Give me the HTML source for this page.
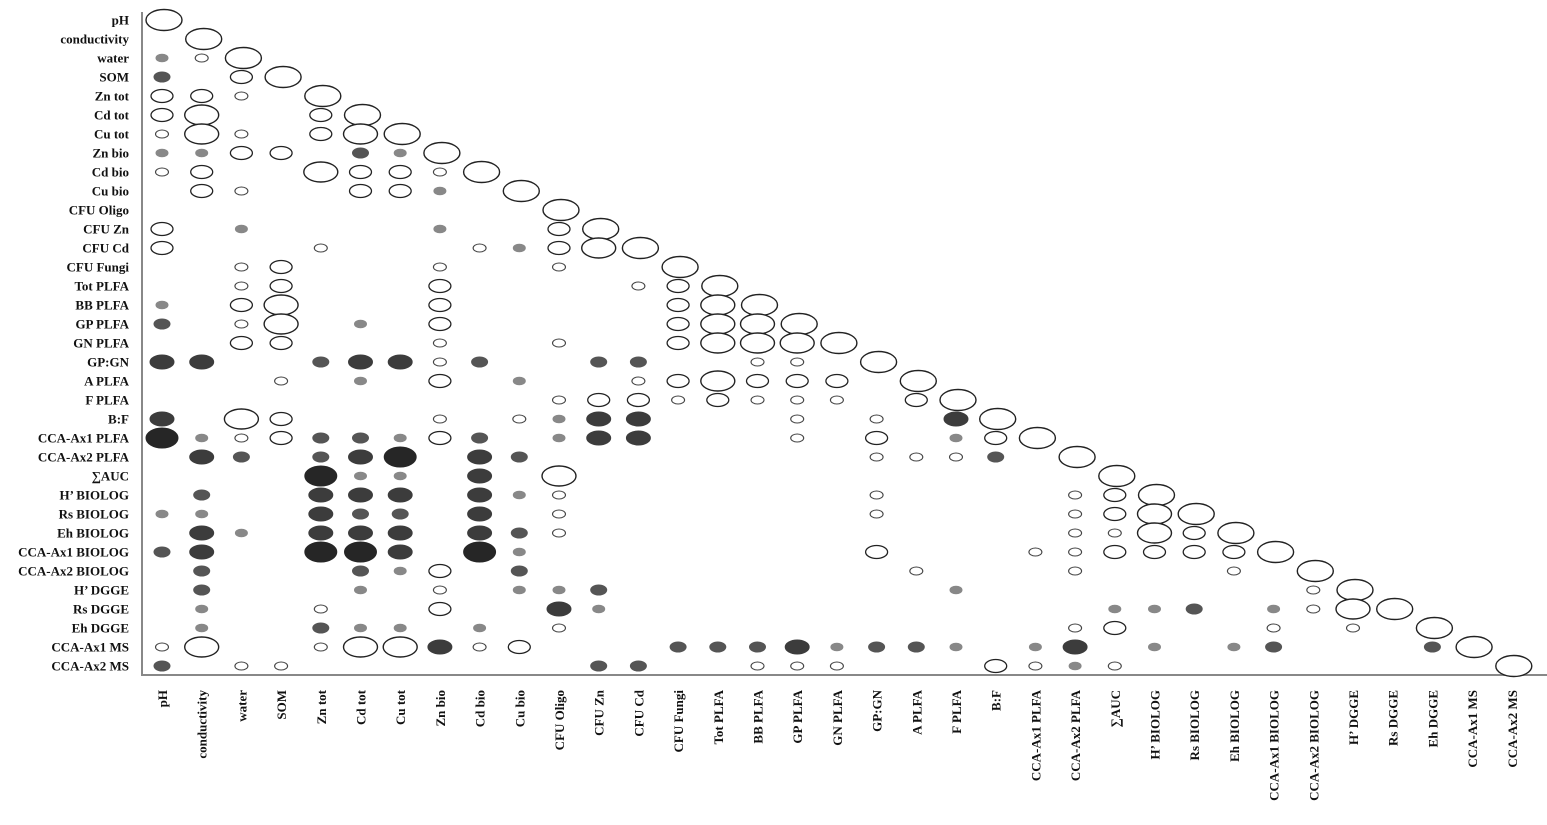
<!DOCTYPE html>
<html><head><meta charset="utf-8">
<style>
html,body{margin:0;padding:0;background:#fff;}
svg{display:block;}
text{font-family:"Liberation Serif",serif;font-weight:bold;font-size:13px;fill:#111;}
</style></head>
<body>
<svg id="s" width="1547" height="825" viewBox="0 0 1547 825" xmlns="http://www.w3.org/2000/svg">
<line x1="142" y1="12" x2="142" y2="675" stroke="#888" stroke-width="2"/>
<line x1="141" y1="675" x2="1547" y2="675" stroke="#888" stroke-width="2"/>
<g id="rl" text-anchor="end"></g>
<g id="cl" text-anchor="end"></g>
<g id="el"></g>
</svg>
<script>
var names=["pH","conductivity","water","SOM","Zn tot","Cd tot","Cu tot","Zn bio","Cd bio","Cu bio","CFU Oligo","CFU Zn","CFU Cd","CFU Fungi","Tot PLFA","BB PLFA","GP PLFA","GN PLFA","GP:GN","A PLFA","F PLFA","B:F","CCA-Ax1 PLFA","CCA-Ax2 PLFA","\u2211AUC","H\u2019 BIOLOG","Rs BIOLOG","Eh BIOLOG","CCA-Ax1 BIOLOG","CCA-Ax2 BIOLOG","H\u2019 DGGE","Rs DGGE","Eh DGGE","CCA-Ax1 MS","CCA-Ax2 MS"];
function cx(i){return 162+39.7*i;}
function cy(i){return 20+19.0*i;}
var NS="http://www.w3.org/2000/svg";
var rl=document.getElementById('rl'),cl=document.getElementById('cl'),el=document.getElementById('el');
names.forEach(function(n,i){
 var t=document.createElementNS(NS,'text');t.setAttribute('x',129);t.setAttribute('y',cy(i)+4.5);t.textContent=n;rl.appendChild(t);
 var u=document.createElementNS(NS,'text');u.setAttribute('transform','translate('+(cx(i)+5)+',690) rotate(-90)');u.textContent=n;cl.appendChild(u);
});
var rows=[
"",
"",
"0g 1p",
"0d 2o",
"0o 1o 2p",
"0o 1O 4o",
"0p 1O 2p 4o 5O",
"0g 1g 2o 3o 5d 6g",
"0p 1o 4O 5o 6o 7p",
"1o 2p 5o 6o 7g",
"",
"0o 2g 7g 10o",
"0o 4p 8p 9g 10o 11O",
"2p 3o 7p 10p",
"2p 3o 7o 12p 13o",
"0g 2o 3O 7o 13o 14O",
"0d 2p 3O 5g 7o 13o 14O 15O",
"2o 3o 7p 10p 13o 14O 15O 16O",
"0D 1D 4d 5D 6D 7p 8d 11d 12d 15p 16p",
"3p 5g 7o 9g 12p 13o 14O 15o 16o 17o",
"10p 11o 12o 13p 14o 15p 16p 17p 19o",
"0D 2O 3o 7p 9p 10g 11D 12D 16p 18p 20D",
"0X 1g 2p 3o 4d 5d 6g 7o 8d 10g 11D 12D 16p 18o 20g 21o",
"1D 2d 4d 5D 6X 8D 9d 18p 19p 20p 21d",
"4X 5g 6g 8D 10O",
"1d 4D 5D 6D 8D 9g 10p 18p 23p 24o",
"0g 1g 4D 5d 6d 8D 10p 18p 23p 24o 25O",
"1D 2g 4D 5D 6D 8D 9d 10p 23p 24p 25O 26o",
"0d 1D 4X 5X 6D 8X 9g 18o 22p 23p 24o 25o 26o 27o",
"1d 5d 6g 7o 9d 19p 23p 27p",
"1d 5g 7p 9g 10g 11d 20g 29p",
"1g 4p 7o 10D 11g 24g 25g 26d 28g 29p 30O",
"1g 4d 5g 6g 8g 10p 23p 24o 28p 30p",
"0p 1O 4p 5O 6O 7D 8p 9o 13d 14d 15d 16D 17g 18d 19d 20g 22g 23D 25g 27g 28d 32d",
"0d 2p 3p 11d 12d 15p 16p 17p 21o 22p 23g 24p"
];
var sty={
 O:{rx:17,ry:10,f:"#fff",s:"#222",w:1.4},
 o:{rx:11,ry:6.5,f:"#fff",s:"#222",w:1.3},
 p:{rx:6.5,ry:4,f:"#fff",s:"#444",w:1.1},
 X:{rx:16,ry:10,f:"#262626",s:"#262626",w:1},
 D:{rx:12,ry:7,f:"#3c3c3c",s:"#3c3c3c",w:1},
 d:{rx:8,ry:5,f:"#555",s:"#555",w:1},
 g:{rx:6,ry:3.8,f:"#888",s:"#888",w:1}
};
function add(c,r,k){var st=sty[k];var e=document.createElementNS(NS,'ellipse');
 e.setAttribute('cx',cx(c));e.setAttribute('cy',cy(r));e.setAttribute('rx',st.rx);e.setAttribute('ry',st.ry);
 e.setAttribute('fill',st.f);e.setAttribute('stroke',st.s);e.setAttribute('stroke-width',st.w);el.appendChild(e);}
rows.forEach(function(r,i){
 if(r)r.split(' ').forEach(function(tok){add(parseInt(tok.slice(0,-1),10),i,tok.slice(-1));});
 var e=document.createElementNS(NS,'ellipse');e.setAttribute('cx',cx(i)+2);e.setAttribute('cy',cy(i));e.setAttribute('rx',18);e.setAttribute('ry',10.5);
 e.setAttribute('fill','#fff');e.setAttribute('stroke','#222');e.setAttribute('stroke-width',1.4);el.appendChild(e);
});
</script>
</body></html>
